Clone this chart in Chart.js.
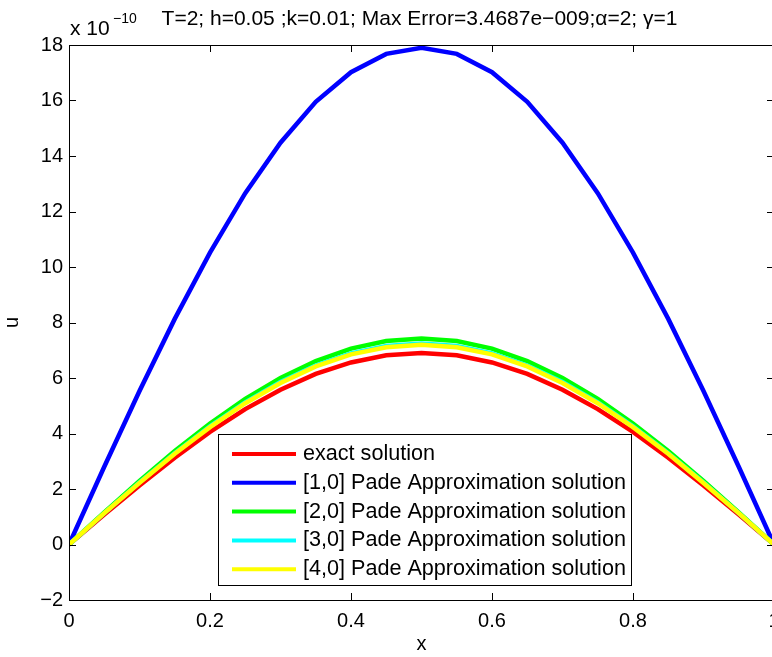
<!DOCTYPE html>
<html>
<head>
<meta charset="utf-8">
<script src="https://cdn.jsdelivr.net/npm/chart.js@4.4.1/dist/chart.umd.min.js"></script>
<style>
  html, body { margin: 0; padding: 0; background: #fff; overflow: hidden; }
  #wrap { position: relative; width: 800px; height: 657px; }
</style>
</head>
<body>
<div id="wrap"><canvas id="padeChart" width="800" height="657"></canvas></div>
<script>
// x grid (h = 0.05)
const xs = [0, 0.05, 0.1, 0.15, 0.2, 0.25, 0.3, 0.35, 0.4, 0.45, 0.5,
            0.55, 0.6, 0.65, 0.7, 0.75, 0.8, 0.85, 0.9, 0.95, 1];

// values in units of 1e-10
const exactSol = [0, 1.08, 2.13, 3.13, 4.06, 4.88, 5.58, 6.15, 6.56, 6.82, 6.90,
                  6.82, 6.56, 6.15, 5.58, 4.88, 4.06, 3.13, 2.13, 1.08, 0];
const pade10 = [0, 2.80, 5.53, 8.13, 10.52, 12.66, 14.48, 15.95, 17.02, 17.68, 17.90,
                17.68, 17.02, 15.95, 14.48, 12.66, 10.52, 8.13, 5.53, 2.80, 0];
const pade20 = [0, 1.16, 2.29, 3.37, 4.36, 5.25, 6.00, 6.61, 7.06, 7.33, 7.42,
                7.33, 7.06, 6.61, 6.00, 5.25, 4.36, 3.37, 2.29, 1.16, 0];
const pade30 = [0, 1.13, 2.24, 3.29, 4.26, 5.12, 5.86, 6.45, 6.89, 7.15, 7.24,
                7.15, 6.89, 6.45, 5.86, 5.12, 4.26, 3.29, 2.24, 1.13, 0];
const pade40 = [0, 1.13, 2.22, 3.27, 4.23, 5.09, 5.82, 6.42, 6.85, 7.11, 7.20,
                7.11, 6.85, 6.42, 5.82, 5.09, 4.23, 3.27, 2.22, 1.13, 0];

const xTicks = [0, 0.2, 0.4, 0.6, 0.8, 1];
const yTicks = [-2, 0, 2, 4, 6, 8, 10, 12, 14, 16, 18];

const seriesNames = [
  'exact solution',
  '[1,0] Pade Approximation solution',
  '[2,0] Pade Approximation solution',
  '[3,0] Pade Approximation solution',
  '[4,0] Pade Approximation solution'
];
const titleText = 'T=2; h=0.05 ;k=0.01; Max Error=3.4687e\u2212009;\u03b1=2; \u03b3=1';

const FONT = '"Liberation Sans", Arial, Helvetica, sans-serif';

function pts(arr) {
  return arr.map((v, i) => ({ x: xs[i], y: v }));
}

function mkSet(label, arr, color, order) {
  return {
    label: label,
    data: pts(arr),
    borderColor: color,
    backgroundColor: color,
    borderWidth: 4.5,
    pointRadius: 0,
    tension: 0,
    fill: false,
    order: order
  };
}

// frame, inward ticks, title, exponent, legend box
const matlabLook = {
  id: 'matlabLook',
  afterDatasetsDraw(chart) {
    const { ctx, chartArea: a, scales } = chart;
    ctx.save();
    ctx.strokeStyle = '#000';
    ctx.lineWidth = 1;
    ctx.beginPath();
    ctx.rect(a.left + 0.5, a.top + 0.5, a.right - a.left, a.bottom - a.top);
    ctx.stroke();

    const tl = 7;
    ctx.beginPath();
    xTicks.forEach(t => {
      const px = Math.round(scales.x.getPixelForValue(t)) + 0.5;
      ctx.moveTo(px, a.bottom); ctx.lineTo(px, a.bottom - tl);
      ctx.moveTo(px, a.top); ctx.lineTo(px, a.top + tl);
    });
    yTicks.forEach(t => {
      const py = Math.round(scales.y.getPixelForValue(t)) + 0.5;
      ctx.moveTo(a.left, py); ctx.lineTo(a.left + tl, py);
      ctx.moveTo(a.right, py); ctx.lineTo(a.right - tl, py);
    });
    ctx.stroke();

    // title
    ctx.fillStyle = '#000';
    ctx.textBaseline = 'alphabetic';
    ctx.textAlign = 'center';
    ctx.font = '21px ' + FONT;
    ctx.fillText(titleText, (a.left + a.right) / 2 - 2, 25);

    // exponent label
    ctx.textAlign = 'left';
    ctx.font = '21px ' + FONT;
    ctx.fillText('x 10', a.left + 1, 35);
    ctx.font = '14px ' + FONT;
    ctx.fillText('\u221210', a.left + 44, 23);

    // legend
    const lx = 218, ly = 434, lw = 413, lh = 151;
    ctx.fillStyle = '#fff';
    ctx.fillRect(lx, ly, lw, lh);
    ctx.strokeRect(lx + 0.5, ly + 0.5, lw, lh);
    ctx.font = '21.6px ' + FONT;
    ctx.textBaseline = 'middle';
    chart.data.datasets.forEach((ds, i) => {
      const yy = ly + 20 + i * 28.8;
      ctx.strokeStyle = ds.borderColor;
      ctx.lineWidth = 4;
      ctx.beginPath();
      ctx.moveTo(232, yy); ctx.lineTo(296, yy);
      ctx.stroke();
      ctx.fillStyle = '#000';
      ctx.fillText(ds.label, 303, yy);
    });
    ctx.restore();
  }
};

new Chart(document.getElementById('padeChart'), {
  type: 'line',
  data: {
    datasets: [
      mkSet(seriesNames[0], exactSol, '#ff0000', 5),
      mkSet(seriesNames[1], pade10, '#0000ff', 4),
      mkSet(seriesNames[2], pade20, '#00ff00', 3),
      mkSet(seriesNames[3], pade30, '#00ffff', 2),
      mkSet(seriesNames[4], pade40, '#ffff00', 1)
    ]
  },
  options: {
    responsive: false,
    animation: false,
    devicePixelRatio: 1,
    layout: { padding: { left: 0, top: 45, right: 26, bottom: 0 } },
    plugins: {
      legend: { display: false },
      title: { display: false },
      tooltip: { enabled: false }
    },
    scales: {
      x: {
        type: 'linear',
        min: 0, max: 1,
        afterBuildTicks: s => { s.ticks = xTicks.map(v => ({ value: v })); },
        afterFit: s => { s.height = 57; },
        grid: { display: false, drawTicks: false },
        border: { display: false },
        ticks: {
          color: '#000', padding: 9,
          font: { family: FONT, size: 20 },
          maxRotation: 0,
          callback: v => String(v)
        },
        title: {
          display: true, text: 'x', color: '#000',
          font: { family: FONT, size: 20 },
          padding: { top: 0, bottom: 1 }
        }
      },
      y: {
        type: 'linear',
        min: -2, max: 18,
        afterBuildTicks: s => { s.ticks = yTicks.map(v => ({ value: v })); },
        afterFit: s => { s.width = 69; },
        grid: { display: false, drawTicks: false },
        border: { display: false },
        ticks: {
          color: '#000', padding: 6,
          font: { family: FONT, size: 20 },
          callback: v => (v < 0 ? '\u2212' + Math.abs(v) : String(v))
        },
        title: {
          display: true, text: 'u', color: '#000',
          font: { family: FONT, size: 20 },
          padding: { top: 0, bottom: 0 }
        }
      }
    }
  },
  plugins: [matlabLook]
});
</script>
</body>
</html>
